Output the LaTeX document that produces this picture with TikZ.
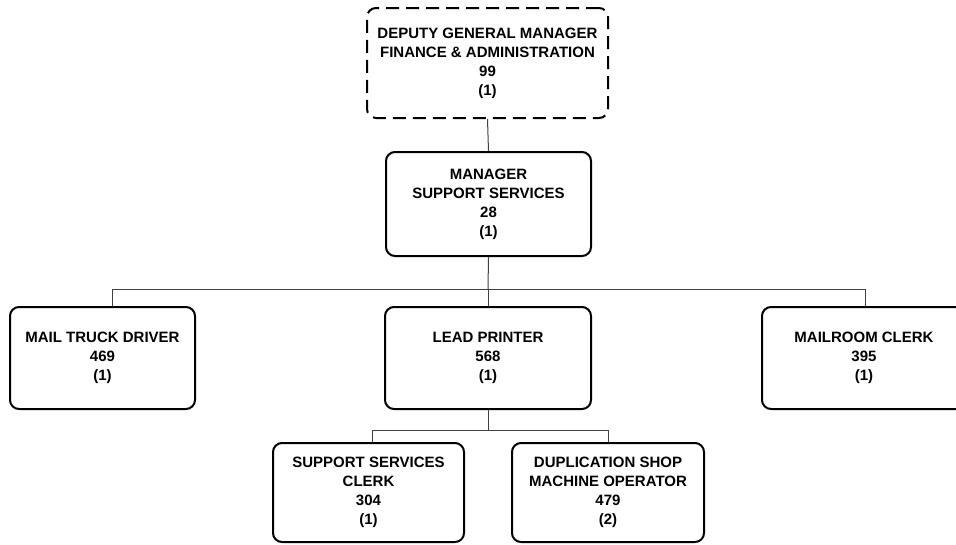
\documentclass[tikz,border=0pt]{standalone}
\usepackage{fontspec}
\setmainfont{Liberation Sans}
\begin{document}
\begin{tikzpicture}[x=1pt,y=-1pt,
  box/.style={draw=black, line width=2pt, rounded corners=9pt, fill=white,
    inner sep=0pt, align=center, font=\bfseries\fontsize{15}{19}\selectfont},
  dashbox/.style={box, dash pattern=on 13pt off 7pt},
  conn/.style={draw=black!75, line width=1pt}]
\useasboundingbox (0,0) rectangle (956,544);
\fill[white] (0,0) rectangle (956,544);
\node[dashbox, minimum width=241pt, minimum height=110pt] (dgm) at (487.5,63)
  {DEPUTY GENERAL MANAGER\\FINANCE \& ADMINISTRATION\\99\\(1)};
\node[box, minimum width=205pt, minimum height=104pt] (mgr) at (488.5,204)
  {MANAGER\\SUPPORT SERVICES\\28\\(1)};
\node[box, minimum width=185pt, minimum height=102pt] (mtd) at (102.5,358)
  {MAIL TRUCK DRIVER\\469\\(1)};
\node[box, minimum width=206pt, minimum height=102pt] (lp) at (488,358)
  {LEAD PRINTER\\568\\(1)};
\node[box, minimum width=204pt, minimum height=102pt] (mrc) at (864,358)
  {MAILROOM CLERK\\395\\(1)};
\node[box, minimum width=191pt, minimum height=99pt] (ssc) at (368.5,492.5)
  {SUPPORT SERVICES\\CLERK\\304\\(1)};
\node[box, minimum width=192pt, minimum height=99pt] (dsm) at (608,492.5)
  {DUPLICATION SHOP\\MACHINE OPERATOR\\479\\(2)};
\coordinate (bus1) at (488,289);
\coordinate (bus2) at (488,430);
\begin{scope}[on background layer/.try]
\end{scope}
\draw[conn] (dgm.south) -- (mgr.north);
\draw[conn] (mgr.south) -- (bus1);
\draw[conn] (bus1) -| ([xshift=9.5pt]mtd.north);
\draw[conn] (bus1) -| ([xshift=1pt]mrc.north);
\draw[conn] (bus1) -- (lp.north);
\draw[conn] (lp.south) -- (bus2);
\draw[conn] (bus2) -| ([xshift=3.5pt]ssc.north);
\draw[conn] (bus2) -| (dsm.north);
\end{tikzpicture}
\end{document}
